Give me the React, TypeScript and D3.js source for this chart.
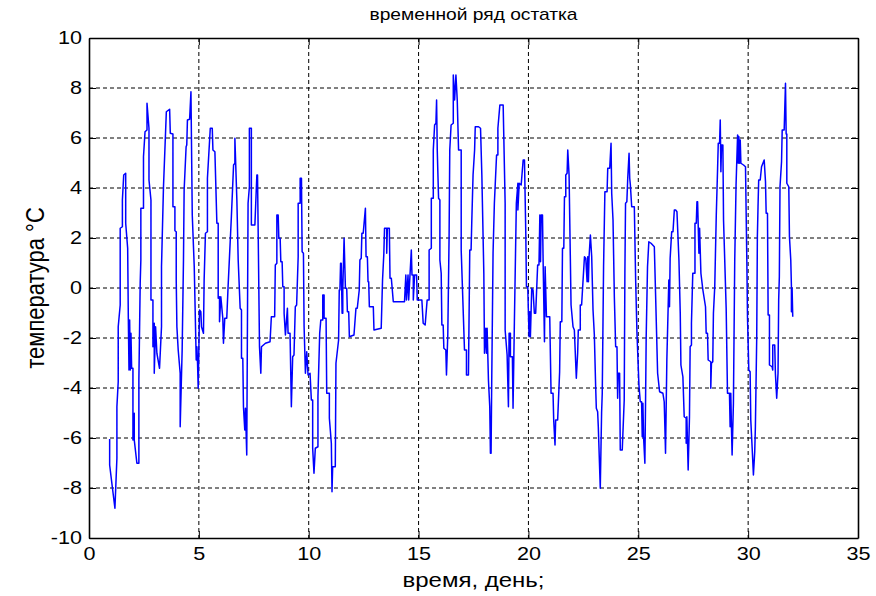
import React, { useEffect, useRef } from "react";
import * as d3 from "d3";

// остаток: [день, температура]
const residual: [number, number][] = [
  [0.94, -6.04], [0.94, -7.08], [1.06, -7.95], [1.18, -8.81], [1.27, -6.81], [1.27, -4.75],
  [1.33, -3.75], [1.33, -1.55], [1.42, -0.68], [1.42, 2.39], [1.52, 2.45], [1.52, 3.52],
  [1.58, 4.52], [1.67, 4.59], [1.67, 2.59], [1.76, 1.59], [1.79, -1.21], [1.82, -3.28],
  [1.85, -1.28], [1.88, -3.28], [1.91, -1.81], [1.94, -3.21], [2.0, -3.21], [2.0, -6.08],
  [2.06, -5.01], [2.06, -6.08], [2.18, -7.01], [2.27, -7.01], [2.27, -3.68], [2.33, 0.19],
  [2.36, 1.12], [2.36, 3.19], [2.48, 3.19], [2.48, 5.25], [2.55, 6.25], [2.64, 6.32],
  [2.64, 7.39], [2.73, 6.39], [2.73, 4.32], [2.82, 3.52], [2.82, -0.48], [2.91, -0.48],
  [2.91, -2.35], [2.97, -1.41], [2.97, -3.41], [3.03, -1.55], [3.09, -2.61], [3.21, -3.21],
  [3.3, -1.55], [3.3, 0.85], [3.39, 4.05], [3.52, 7.05], [3.67, 7.15], [3.7, 6.19],
  [3.82, 6.16], [3.82, 3.25], [3.91, 3.25], [3.91, 2.29], [3.97, 2.25], [3.97, 0.32],
  [4.0, -1.55], [4.06, -2.48], [4.15, -3.41], [4.15, -5.55], [4.24, -2.48], [4.3, 1.12],
  [4.33, 3.92], [4.42, 5.65], [4.45, 5.72], [4.48, 6.72], [4.58, 6.75], [4.64, 7.85],
  [4.7, 2.92], [4.79, 0.85], [4.88, -2.88], [4.91, -2.35], [4.94, -3.01], [4.97, -4.01],
  [5.03, -0.88], [5.09, -0.95], [5.12, -1.55], [5.21, -1.81], [5.24, 0.32], [5.3, 2.19],
  [5.39, 2.25], [5.39, 4.39], [5.52, 6.39], [5.61, 6.39], [5.64, 5.52], [5.73, 5.45],
  [5.82, 2.59], [5.88, 2.59], [5.88, -0.41], [5.94, -0.35], [5.94, -1.35], [6.0, -0.35],
  [6.09, -1.21], [6.12, -2.21], [6.18, -1.21], [6.27, -1.21], [6.33, 0.05], [6.48, 2.85],
  [6.58, 4.92], [6.64, 4.99], [6.64, 5.99], [6.73, 3.52], [6.79, 1.12], [6.88, -0.81],
  [6.94, -0.88], [6.94, -2.81], [7.0, -2.81], [7.03, -4.75], [7.09, -5.68], [7.12, -4.81],
  [7.18, -6.68], [7.24, 3.39], [7.3, 4.05], [7.3, 6.39], [7.39, 6.39], [7.39, 2.52],
  [7.55, 2.52], [7.64, 4.52], [7.67, 4.52], [7.76, -2.35], [7.82, -3.41], [7.85, -2.35],
  [7.94, -2.28], [8.03, -2.21], [8.24, -2.15], [8.3, -1.15], [8.45, -1.15], [8.48, 0.92],
  [8.55, 0.99], [8.55, 2.92], [8.61, 2.92], [8.64, 1.99], [8.7, 1.99], [8.73, 1.05],
  [8.79, 1.05], [8.82, 0.05], [8.88, 0.05], [8.88, -1.01], [8.94, -1.88], [9.03, -0.81],
  [9.06, -1.81], [9.15, -1.81], [9.21, -4.75], [9.27, -2.75], [9.33, -2.68], [9.39, -0.75],
  [9.45, -0.68], [9.52, 1.25], [9.52, 3.39], [9.61, 3.39], [9.61, 4.39], [9.67, 4.39],
  [9.7, 1.45], [9.76, 1.39], [9.79, -1.55], [9.85, -3.41], [9.91, -2.55], [9.97, -3.48],
  [10.06, -3.41], [10.12, -4.48], [10.18, -4.48], [10.18, -6.41], [10.24, -7.41], [10.3, -6.41],
  [10.42, -6.35], [10.42, -4.35], [10.5, -1.81], [10.55, -1.28], [10.64, -1.28], [10.64, -0.28],
  [10.7, -0.28], [10.7, -1.21], [10.79, -1.21], [10.82, -4.21], [10.94, -4.21], [10.94, -5.21],
  [11.03, -6.21], [11.06, -8.15], [11.09, -7.15], [11.21, -7.15], [11.24, -3.01], [11.36, -2.08],
  [11.39, -0.08], [11.42, -0.08], [11.45, 0.99], [11.48, 0.99], [11.52, -1.01], [11.55, -1.01],
  [11.55, -0.08], [11.61, 1.99], [11.67, -0.01], [11.73, -0.01], [11.76, -0.95], [11.82, -0.95],
  [11.85, -1.95], [12.06, -1.88], [12.15, -0.81], [12.21, -0.81], [12.3, -0.08], [12.33, 1.12],
  [12.39, 1.19], [12.42, 2.19], [12.48, 2.19], [12.58, 3.19], [12.61, 1.25], [12.67, 1.25],
  [12.7, 0.25], [12.73, 0.25], [12.76, -0.75], [12.94, -0.75], [12.97, -1.68], [13.3, -1.61],
  [13.36, 0.32], [13.42, 1.39], [13.45, 2.39], [13.55, 2.39], [13.55, 1.39], [13.58, 2.39],
  [13.67, 2.39], [13.7, 0.39], [13.76, 0.39], [13.85, -0.55], [14.36, -0.55], [14.42, 0.52],
  [14.45, -0.48], [14.52, 0.52], [14.55, -0.48], [14.61, 0.52], [14.67, 1.52], [14.7, 0.52],
  [14.76, 0.52], [14.76, -0.48], [14.82, 0.52], [14.91, 0.52], [14.94, -0.48], [15.15, -0.48],
  [15.21, -1.41], [15.3, -1.48], [15.39, -0.48], [15.48, -0.48], [15.48, 1.52], [15.58, 1.59],
  [15.58, 3.59], [15.67, 3.59], [15.67, 5.52], [15.73, 6.52], [15.79, 6.59], [15.82, 7.52],
  [15.85, 5.52], [15.91, 3.59], [15.97, 3.52], [15.97, 1.12], [16.03, 0.59], [16.06, -1.48],
  [16.12, -1.48], [16.15, -2.41], [16.24, -2.48], [16.27, -3.48], [16.33, -1.88], [16.39, 2.12],
  [16.42, 5.52], [16.48, 6.52], [16.58, 6.59], [16.58, 8.52], [16.64, 7.52], [16.7, 8.52],
  [16.76, 7.52], [16.82, 5.52], [16.94, 5.52], [16.94, 1.52], [17.09, -2.48], [17.18, -2.48],
  [17.18, -3.48], [17.27, -3.48], [17.33, 1.52], [17.39, 1.52], [17.42, 2.59], [17.48, 4.52],
  [17.55, 5.52], [17.58, 6.45], [17.73, 6.45], [17.82, 6.39], [17.88, 4.52], [17.97, 0.59],
  [18.0, -2.61], [18.06, -1.61], [18.09, -2.61], [18.12, -1.61], [18.18, -3.68], [18.24, -4.75],
  [18.27, -6.61], [18.3, -6.61], [18.33, -3.68], [18.39, 1.39], [18.45, 3.39], [18.55, 5.32],
  [18.61, 5.32], [18.61, 6.39], [18.7, 7.32], [18.85, 7.32], [18.94, 3.39], [18.94, -1.68],
  [19.03, -2.68], [19.09, -4.75], [19.12, -1.81], [19.18, -1.81], [19.18, -2.75], [19.27, -2.75],
  [19.3, -4.81], [19.36, -1.41], [19.45, 3.39], [19.52, 4.19], [19.52, 3.12], [19.58, 4.19],
  [19.67, 4.12], [19.76, 5.12], [19.82, 5.12], [19.88, 2.19], [19.91, 0.05], [19.97, 0.05],
  [20.0, -1.01], [20.03, -1.95], [20.06, -0.95], [20.09, -1.95], [20.12, -1.01], [20.15, -0.01],
  [20.21, -0.08], [20.27, -1.01], [20.33, -1.01], [20.42, 0.92], [20.48, 0.92], [20.52, 2.92],
  [20.55, 1.05], [20.58, 2.92], [20.64, 2.92], [20.67, 0.99], [20.73, -2.15], [20.76, 0.85],
  [20.82, -1.15], [20.97, -1.15], [21.03, -4.21], [21.12, -4.21], [21.15, -5.28], [21.21, -6.28],
  [21.24, -5.28], [21.33, -5.28], [21.42, -3.35], [21.45, -1.35], [21.52, -1.35], [21.55, 1.59],
  [21.61, 1.59], [21.64, 3.65], [21.7, 3.65], [21.7, 4.52], [21.76, 4.59], [21.79, 5.52],
  [21.85, 4.52], [21.94, -0.68], [22.03, -1.55], [22.09, -1.68], [22.18, -3.61], [22.24, -2.61],
  [22.27, -1.68], [22.36, -1.68], [22.36, -0.68], [22.42, -0.68], [22.55, 1.25], [22.61, 1.19],
  [22.67, 0.25], [22.7, 1.25], [22.73, 0.25], [22.76, 1.25], [22.82, 2.12], [22.88, 1.25],
  [22.94, -0.88], [23.0, -1.88], [23.06, -3.95], [23.09, -4.81], [23.15, -4.95], [23.18, -5.55],
  [23.27, -8.01], [23.33, -5.0], [23.36, -4.21], [23.42, 0.85], [23.48, 3.85], [23.58, 3.85],
  [23.61, 4.79], [23.7, 4.79], [23.76, 5.79], [23.79, 3.79], [23.85, 2.72], [23.91, -0.35],
  [23.97, -2.35], [24.03, -2.35], [24.06, -4.41], [24.09, -3.41], [24.15, -3.41], [24.18, -6.48],
  [24.27, -6.48], [24.36, -4.48], [24.39, 0.59], [24.42, 3.39], [24.48, 3.45], [24.52, 4.39],
  [24.58, 5.39], [24.61, 4.39], [24.64, 4.12], [24.7, 3.25], [24.82, 3.25], [24.88, 0.32],
  [24.94, -1.81], [25.03, -3.88], [25.09, -4.55], [25.15, -4.55], [25.18, -5.95], [25.21, -4.61],
  [25.24, -5.95], [25.3, -7.01], [25.33, -4.61], [25.36, -1.95], [25.42, 0.85], [25.48, 1.85],
  [25.58, 1.79], [25.73, 1.65], [25.79, -0.35], [25.88, -3.41], [25.97, -4.15], [26.12, -4.21],
  [26.18, -4.55], [26.21, -5.55], [26.24, -6.61], [26.3, -2.88], [26.36, -0.75], [26.39, 0.32],
  [26.42, -0.75], [26.45, 1.19], [26.52, 2.25], [26.58, 2.25], [26.64, 3.12], [26.7, 3.12],
  [26.76, 3.05], [26.85, 1.12], [26.91, -1.01], [26.94, -3.08], [27.03, -3.55], [27.09, -5.15],
  [27.18, -5.21], [27.18, -6.21], [27.21, -5.15], [27.24, -6.21], [27.27, -7.28], [27.33, -5.15],
  [27.36, -2.35], [27.42, -2.28], [27.42, -1.41], [27.48, 0.59], [27.58, 0.59], [27.58, 2.59],
  [27.64, 2.59], [27.67, 3.45], [27.7, 3.45], [27.76, 1.39], [27.79, 2.39], [27.85, 0.59],
  [27.94, -0.08], [28.06, -0.75], [28.09, -1.81], [28.15, -1.81], [28.18, -2.88], [28.3, -2.95],
  [28.3, -4.01], [28.33, -3.01], [28.39, -2.95], [28.42, -1.01], [28.48, 0.05], [28.55, 2.92],
  [28.61, 4.79], [28.64, 5.79], [28.7, 5.79], [28.73, 6.72], [28.76, 4.65], [28.79, 5.72],
  [28.85, 5.72], [28.88, 2.72], [29.0, -0.81], [29.06, -4.21], [29.15, -4.21], [29.18, -5.55],
  [29.21, -4.21], [29.24, -5.55], [29.27, -6.68], [29.33, -4.61], [29.39, 1.12], [29.45, 4.12],
  [29.52, 6.12], [29.55, 6.05], [29.55, 4.99], [29.58, 6.05], [29.61, 4.99], [29.64, 5.92],
  [29.67, 4.99], [29.79, 4.92], [29.88, 4.85], [29.94, 1.12], [29.97, -1.15], [30.03, -3.28],
  [30.09, -3.35], [30.12, -5.28], [30.18, -6.35], [30.24, -7.48], [30.3, -6.55], [30.33, -5.55],
  [30.39, -2.01], [30.42, 2.05], [30.45, 3.25], [30.48, 4.32], [30.55, 4.32], [30.61, 4.85],
  [30.73, 5.12], [30.79, 4.25], [30.82, 2.99], [30.88, 2.99], [30.91, -1.08], [30.97, -1.08],
  [30.97, -3.08], [31.09, -3.15], [31.12, -3.28], [31.12, -2.28], [31.21, -2.28], [31.24, -3.41],
  [31.3, -4.41], [31.36, -3.41], [31.39, -0.48], [31.42, 0.45], [31.45, 4.05], [31.52, 5.05],
  [31.55, 6.32], [31.64, 6.32], [31.7, 8.19], [31.73, 6.16], [31.76, 6.16], [31.76, 4.19],
  [31.85, 4.05], [31.88, 2.05], [31.94, 1.12], [31.97, 0.05], [31.97, -0.95], [32.0, 0.0],
  [32.03, -1.15],
];

const xTicks = [0, 5, 10, 15, 20, 25, 30, 35];
const yTicks = [-10, -8, -6, -4, -2, 0, 2, 4, 6, 8, 10];

const title = "временной ряд остатка";
const xLabel = "время, день;";
const yLabel = "температура °C";

export default function App() {
  const ref = useRef<SVGSVGElement>(null);
  const W = 876;
  const H = 596;
  const margin = { top: 38, right: 18, bottom: 58, left: 89 };
  const sx = 1.2; // картинка растянута по горизонтали

  useEffect(() => {
    const svg = d3.select(ref.current);
    svg.selectAll("*").remove();

    const x = d3.scaleLinear().domain([0, 35]).range([margin.left, W - margin.right]);
    const y = d3.scaleLinear().domain([-10, 10]).range([H - margin.bottom, margin.top]);
    const font = "'Liberation Sans', Arial, sans-serif";
    const fmt = (d: any) => String(d); // обычный дефис, как в MATLAB

    svg.append("rect")
      .attr("x", 0).attr("y", 0).attr("width", W).attr("height", H)
      .attr("fill", "#fff");

    // grid
    const grid = svg.append("g")
      .attr("stroke", "#000")
      .attr("stroke-width", 1)
      .attr("stroke-dasharray", "4,3");
    grid.selectAll("line.v")
      .data(xTicks.slice(1, -1))
      .join("line")
      .attr("class", "v")
      .attr("x1", (d) => x(d)).attr("x2", (d) => x(d))
      .attr("y1", y(10)).attr("y2", y(-10));
    grid.selectAll("line.h")
      .data(yTicks.slice(1, -1))
      .join("line")
      .attr("class", "h")
      .attr("x1", x(0)).attr("x2", x(35))
      .attr("y1", (d) => y(d)).attr("y2", (d) => y(d));

    // series
    const line = d3.line<[number, number]>()
      .x((d) => x(d[0]))
      .y((d) => y(d[1]));
    svg.append("path")
      .datum(residual)
      .attr("fill", "none")
      .attr("stroke", "#0000ff")
      .attr("stroke-width", 1.5)
      .attr("stroke-linejoin", "round")
      .attr("d", line);

    // axes (MATLAB box, inward ticks)
    const styleAxis = (g: any) => {
      g.select(".domain").attr("stroke", "#000").attr("stroke-width", 1.6);
      g.selectAll(".tick line").attr("stroke", "#000").attr("stroke-width", 1);
      g.selectAll(".tick text")
        .attr("fill", "#000")
        .style("font-family", font)
        .style("font-size", "18px")
        .attr("transform", `scale(${sx},1)`);
    };

    svg.append("g")
      .attr("transform", `translate(0,${y(-10)})`)
      .call(d3.axisBottom(x).tickValues(xTicks).tickFormat(fmt).tickSize(-7).tickSizeOuter(0).tickPadding(9))
      .call(styleAxis);
    svg.append("g")
      .attr("transform", `translate(${x(0)},0)`)
      .call(d3.axisLeft(y).tickValues(yTicks).tickFormat(fmt).tickSize(-7).tickSizeOuter(0).tickPadding(7 / sx))
      .call(styleAxis);
    svg.append("g")
      .attr("transform", `translate(0,${y(10)})`)
      .call(d3.axisTop(x).tickValues(xTicks).tickSize(-7).tickSizeOuter(0).tickFormat(() => ""))
      .call(styleAxis);
    svg.append("g")
      .attr("transform", `translate(${x(35)},0)`)
      .call(d3.axisRight(y).tickValues(yTicks).tickSize(-7).tickSizeOuter(0).tickFormat(() => ""))
      .call(styleAxis);

    const cx = (x(0) + x(35)) / 2;
    const cy = (y(-10) + y(10)) / 2;

    svg.append("text")
      .attr("transform", `translate(${cx},20) scale(${sx},1)`)
      .attr("text-anchor", "middle")
      .style("font-family", font)
      .style("font-size", "16px")
      .text(title);

    svg.append("text")
      .attr("transform", `translate(${cx},587) scale(${sx},1)`)
      .attr("text-anchor", "middle")
      .style("font-family", font)
      .style("font-size", "20px")
      .text(xLabel);

    svg.append("text")
      .attr("transform", `translate(44,${cy}) rotate(-90) scale(1,${sx})`)
      .attr("text-anchor", "middle")
      .style("font-family", font)
      .style("font-size", "22px")
      .text(yLabel);
  }, []);

  return (
    <div style={{ position: "absolute", left: 0, top: 0 }}>
      <svg ref={ref} width={W} height={H} />
    </div>
  );
}
